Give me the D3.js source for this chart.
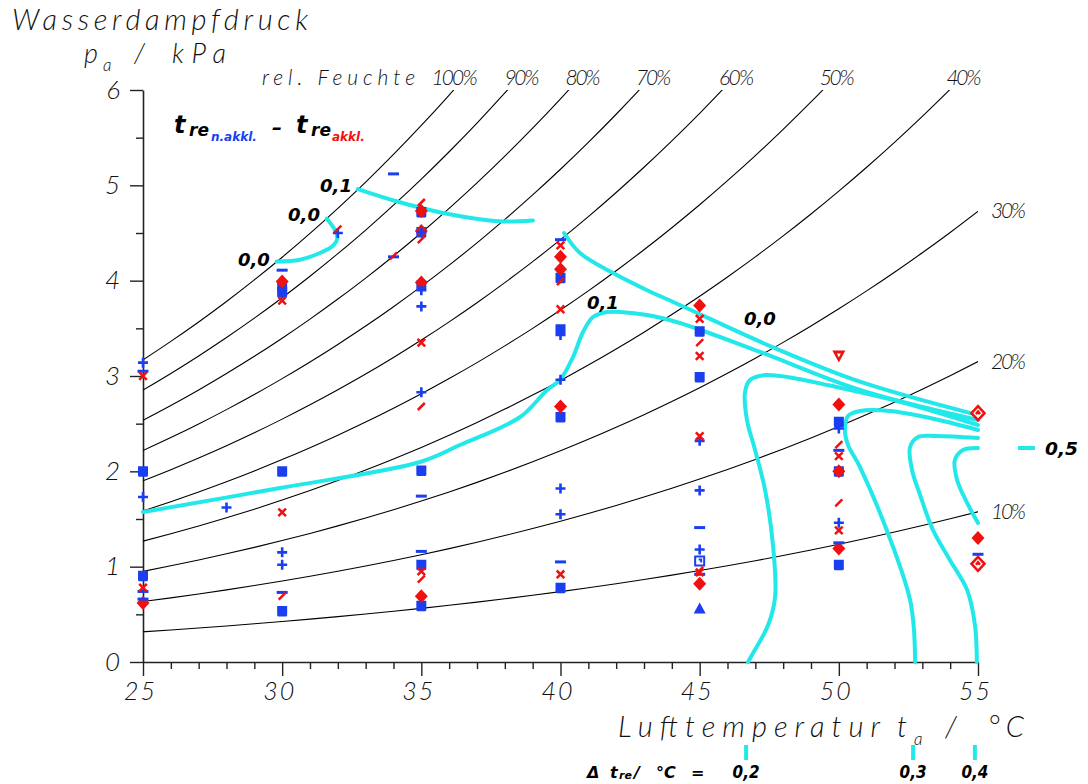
<!DOCTYPE html>
<html>
<head>
<meta charset="utf-8">
<script src="https://cdn.jsdelivr.net/npm/d3@7"></script>
<style>
  body { margin: 0; background: #fff; }
  svg { display: block; }
  .thin { font-family: "Lato", "DejaVu Sans", sans-serif; font-style: italic; font-weight: 300; fill: #111; }
  .bold { font-family: "DejaVu Sans", sans-serif; font-style: italic; font-weight: bold; fill: #000; }
</style>
</head>
<body>
<svg id="chart" width="1088" height="784"></svg>
<script>
// Saturation vapour pressure of water (kPa), 25 … 55 °C
const satTemps = [25,26,27,28,29,30,31,32,33,34,35,36,37,38,39,40,41,42,43,44,45,46,47,48,49,50,51,52,53,54,55];
const satPressure = [3.169,3.363,3.567,3.782,4.008,4.246,4.496,4.759,5.034,5.324,5.628,5.947,6.281,6.632,6.999,
                     7.384,7.786,8.208,8.649,9.111,9.593,10.098,10.624,11.175,11.749,12.349,12.975,13.628,14.309,15.019,15.758];
// relative humidity isolines (%)
const rhLevels = [100,90,80,70,60,50,40,30,20,10];

// isolines of the rectal-temperature difference Δt_re (°C): [t_a, p_a]
const iso00a = [[29.80,4.20],[30.64,4.22],[31.36,4.29],[31.84,4.37],[31.98,4.44],[31.90,4.53],[31.60,4.65]];
const iso01a = [[32.72,4.96],[34.13,4.83],[35.78,4.71],[37.22,4.64],[37.93,4.62],[39.01,4.63]];
const iso00b = [[40.13,4.50],[40.70,4.29],[41.89,4.08],[43.11,3.90],[44.29,3.745],[47.64,3.30],[50.76,2.94],[55.00,2.59]];
const iso01b = [[25.00,1.573],[29.92,1.825],[34.95,2.098],[36.39,2.276],[38.55,2.57],[39.52,2.853],[39.98,2.958],
                [40.45,3.199],[40.81,3.462],[41.17,3.619],[41.67,3.671],[42.14,3.671],[43.11,3.64],[44.29,3.556],
                [47.17,3.252],[50.76,2.853],[55.00,2.538]];
const iso02 = [[55.00,2.486],[52.20,2.73],[49.68,2.90],[48.25,2.985],[47.35,3.01],[46.81,2.958],[46.63,2.832],
               [46.70,2.538],[46.99,2.224],[47.35,1.804],[47.64,1.206],[47.71,0.682],[47.46,0.388],[46.88,0.073],[46.74,0]];
const iso03 = [[55.00,2.434],[53.28,2.559],[51.84,2.633],[50.76,2.633],[50.33,2.58],[50.22,2.434],[50.33,2.276],
               [50.76,2.045],[51.95,1.206],[52.56,0.65],[52.70,0.336],[52.74,0]];
const iso04 = [[55.00,2.35],[53.46,2.371],[52.85,2.36],[52.56,2.255],[52.63,2.014],[52.92,1.752],[53.38,1.385],
               [53.99,1.07],[54.61,0.755],[54.89,0.388],[54.96,0]];
const iso05 = [[55.00,2.245],[54.46,2.224],[54.17,2.119],[54.25,1.909],[54.61,1.668],[55.00,1.458]];

const isoLabelText = ["0,0","0,0","0,1","0,1","0,0"];
const isoLabelT = [28.41,30.21,31.36,40.95,46.59];
const isoLabelP = [4.154,4.626,4.93,3.703,3.535];

// measured points: non-acclimatised (blue) and acclimatised (red)
const blueSquare = [[25,2.0],[25,0.905],[30,3.93],[30,3.88],[30,2.0],[30,0.535],[35,4.72],[35,4.51],[35,3.95],[35,2.01],
                    [35,1.02],[35,0.59],[40,4.03],[40,3.49],[40,2.57],[40,0.78],[45,3.47],[45,2.99],[50,2.52],[50,2.0],[50,1.02]];
const bluePlus = [[25,3.14],[25,1.73],[28,1.62],[30,1.15],[30,1.02],[32,4.5],[35,4.51],[35,3.9],[35,3.73],[35,2.83],
                  [40,3.43],[40,2.96],[40,1.82],[40,1.55],[45,2.32],[45,1.8],[45,1.18],[50,2.45],[50,1.46]];
const blueMinus = [[25,3.05],[25,0.74],[25,0.66],[30,4.11],[30,0.73],[34,5.12],[34,4.25],[35,1.74],[35,1.16],
                   [40,4.43],[40,1.05],[45,1.41],[45,0.92],[50,2.22],[50,1.25],[55,1.13]];
const blueTriangle = [[45,0.56]];
const blueOpenSquare = [[45,1.06]];
const redDiamond = [[25,0.62],[30,3.99],[35,4.73],[35,4.52],[35,3.98],[35,0.69],[40,4.25],[40,4.12],[40,2.68],
                    [45,3.74],[45,0.82],[50,2.7],[50,2.0],[50,1.19],[55,1.3]];
const redCross = [[25,3.0],[25,0.78],[30,3.79],[30,1.57],[35,3.35],[35,0.95],[40,4.37],[40,3.7],[40,0.92],
                  [45,3.6],[45,3.21],[45,2.37],[45,0.94],[50,2.16],[50,1.38]];
const redSlash = [[30,0.69],[32,4.54],[34,4.26],[35,4.82],[35,4.43],[35,2.68],[35,0.87],[40,3.99],[45,3.35],
                  [50,2.28],[50,1.67],[45,0.96]];
const redTriangleDown = [[50,3.21]];
const redOpenDiamond = [[55,2.61],[55,1.03]];

const yTicks = [0,1,2,3,4,5,6];
const xTicks = [25,30,35,40,45,50,55];

const BLUE = "#1a3ff0", RED = "#f01010", CYAN = "#22e8ea";

const svg = d3.select("#chart");
const x = d3.scaleLinear().domain([25,55]).range([143,978]);
const y = d3.scaleLinear().domain([0,6]).range([662,90]);

svg.append("defs").append("clipPath").attr("id","plotClip").append("rect")
  .attr("x", x(25)).attr("y", y(6)).attr("width", x(55)-x(25)).attr("height", y(0)-y(6));

// ---- axes ----
function styleAxis(g){
  g.selectAll("path.domain").attr("stroke","#222").attr("stroke-width",1.6);
  g.selectAll(".tick line").attr("stroke","#222").attr("stroke-width",1.4);
  g.selectAll(".tick text").attr("class","thin").attr("font-size",26);
}
svg.append("g").attr("transform",`translate(${x(25)},0)`)
  .call(d3.axisLeft(y).tickValues(d3.range(0.5,6,1)).tickSize(7).tickSizeOuter(0).tickFormat(""))
  .call(g=>g.select(".domain").remove()).call(styleAxis);
svg.append("g").attr("transform",`translate(${x(25)},0)`)
  .call(d3.axisLeft(y).tickValues(yTicks).tickSize(13).tickSizeOuter(0).tickPadding(10).tickFormat(d3.format("d")))
  .call(styleAxis);
svg.append("g").attr("transform",`translate(0,${y(0)})`)
  .call(d3.axisBottom(x).tickValues(d3.range(26,55,1).filter(d=>d%5)).tickSize(7).tickSizeOuter(0).tickFormat(""))
  .call(g=>g.select(".domain").remove()).call(styleAxis);
svg.append("g").attr("transform",`translate(0,${y(0)})`)
  .call(d3.axisBottom(x).tickValues(xTicks).tickSize(14).tickSizeOuter(0).tickPadding(6).tickFormat(d3.format("d")))
  .call(styleAxis)
  .call(g=>g.selectAll(".tick text").attr("font-size",25).attr("dx",-4)
    .attr("textLength",31).attr("lengthAdjust","spacing"));

// ---- relative humidity curves ----
const line = d3.line().x(d=>x(d[0])).y(d=>y(d[1])).curve(d3.curveMonotoneX);
const rhGroup = svg.append("g").attr("clip-path","url(#plotClip)");
rhLevels.forEach(rh=>{
  const pts = satTemps.map((t,i)=>[t, rh/100*satPressure[i]]);
  rhGroup.append("path").attr("d", line(pts)).attr("fill","none").attr("stroke","#000").attr("stroke-width",1.1);
  // label where the curve leaves the chart
  let lx, ly, anchor = "start";
  const pMax = y.domain()[1];
  const k = pts.findIndex(d=>d[1] > pMax);
  if (k > 0) {
    const a = pts[k-1], b = pts[k];
    const tCross = a[0] + (pMax-a[1])/(b[1]-a[1])*(b[0]-a[0]);
    lx = x(tCross) - 3; ly = y(pMax) - 5;
    if (rh === 100) { lx = x(tCross) + 24; anchor = "end"; }
  } else {
    const last = pts[pts.length-1];
    lx = x(last[0]) + 13; ly = y(last[1]) + 7;
  }
  const lbl = `${rh}%`;
  svg.append("text").attr("class","thin").attr("font-size",21).attr("x",lx).attr("y",ly)
    .attr("text-anchor",anchor).attr("textLength", lbl.length===4 ? 46 : 35).attr("lengthAdjust","spacing").text(lbl);
});
svg.append("text").attr("class","thin").attr("font-size",21).attr("x",262).attr("y",y(6)-5)
  .attr("textLength",153).attr("lengthAdjust","spacing").text("rel. Feuchte");

// ---- Δt_re isolines ----
const isoLine = d3.line().x(d=>x(d[0])).y(d=>y(d[1])).curve(d3.curveCatmullRom.alpha(0.5));
[iso00a, iso01a, iso00b, iso01b, iso02, iso03, iso04, iso05].forEach(d=>{
  svg.append("path").attr("d", isoLine(d)).attr("fill","none").attr("stroke",CYAN)
    .attr("stroke-width",4).attr("stroke-linecap","round").attr("stroke-linejoin","round");
});
isoLabelText.forEach((t,i)=>{
  svg.append("text").attr("class","bold").attr("font-size",17).attr("x",x(isoLabelT[i])).attr("y",y(isoLabelP[i]))
    .attr("textLength",32).attr("lengthAdjust","spacingAndGlyphs").text(t);
});

// ---- markers ----
const shapes = {
  square:  {d:"M-5,-5H5V4Q5,5.5 3.5,5.5H-3.5Q-5,5.5 -5,4Z", fill:true},
  diamond: {d:"M0,-7L6.5,0L0,7L-6.5,0Z", fill:true},
  plus:    {d:"M-5,0H5M0,-5V5", w:2.6},
  minus:   {d:"M-5.5,0H5.5", w:3},
  cross:   {d:"M-3.8,-3.8L3.8,3.8M3.8,-3.8L-3.8,3.8", w:2.5},
  slash:   {d:"M-3.5,3.5L3.5,-3.5", w:2.5},
  triUp:   {d:"M0,-6L6,5H-6Z", fill:true},
  triDown: {d:"M-6.5,-5.5H6.5L0,6.5ZM-2,-2.5H2L0,1.5Z", fill:true, evenodd:true},
  oSquare: {d:"M-4.5,-4.5H4.5V4.5H-4.5ZM-1,-1.5H1.5V1.5", w:2, open:true},
  oDiamond:{d:"M0,-7L6.5,0L0,7L-6.5,0ZM-2,1L0,-1.5L2,1", w:2.6, open:true}
};
function drawMarks(data, shape, color){
  const s = shapes[shape];
  svg.append("g").selectAll("path").data(data).join("path")
    .attr("transform", d=>`translate(${x(d[0])},${y(d[1])})`)
    .attr("d", s.d)
    .attr("fill-rule", s.evenodd ? "evenodd" : "nonzero")
    .attr("fill", s.fill ? color : (s.open ? "#fff" : "none"))
    .attr("stroke", s.fill ? "none" : color)
    .attr("stroke-width", s.w || 0);
}
drawMarks(blueSquare, "square", BLUE);
drawMarks(redDiamond, "diamond", RED);
drawMarks(blueTriangle, "triUp", BLUE);
drawMarks(blueOpenSquare, "oSquare", BLUE);
drawMarks(redTriangleDown, "triDown", RED);
drawMarks(redOpenDiamond, "oDiamond", RED);
drawMarks(bluePlus, "plus", BLUE);
drawMarks(blueMinus, "minus", BLUE);
drawMarks(redCross, "cross", RED);
drawMarks(redSlash, "slash", RED);

// ---- axis titles ----
svg.append("text").attr("class","thin").attr("font-size",29).attr("x",12).attr("y",30)
  .attr("textLength",296).attr("lengthAdjust","spacing").text("Wasserdampfdruck");
svg.append("text").attr("class","thin").attr("font-size",27).attr("x",84).attr("y",63).text("p");
svg.append("text").attr("class","thin").attr("font-size",17).attr("x",103).attr("y",71).text("a");
svg.append("text").attr("class","thin").attr("font-size",27).attr("x",134).attr("y",63).text("/");
svg.append("text").attr("class","thin").attr("font-size",27).attr("x",172).attr("y",63)
  .attr("textLength",54).attr("lengthAdjust","spacing").text("kPa");

svg.append("text").attr("class","thin").attr("font-size",29).attr("x",618).attr("y",737)
  .attr("textLength",262).attr("lengthAdjust","spacing").text("Lufttemperatur");
svg.append("text").attr("class","thin").attr("font-size",29).attr("x",897).attr("y",737).text("t");
svg.append("text").attr("class","thin").attr("font-size",17).attr("x",914).attr("y",745).text("a");
svg.append("text").attr("class","thin").attr("font-size",29).attr("x",945).attr("y",737).text("/");
svg.append("text").attr("class","thin").attr("font-size",29).attr("x",988).attr("y",737)
  .attr("textLength",36).attr("lengthAdjust","spacing").text("°C");

// ---- difference legend (top left) ----
const lg = svg.append("text").attr("class","bold").attr("y",133);
lg.append("tspan").attr("x",174).attr("font-size",24).text("t");
lg.append("tspan").attr("x",189).attr("dy",3).attr("font-size",17).text("re");
lg.append("tspan").attr("x",211).attr("dy",5).attr("font-size",12).attr("fill",BLUE).text("n.akkl.");
lg.append("tspan").attr("x",272).attr("dy",-7).attr("font-size",20).text("–");
lg.append("tspan").attr("x",296).attr("dy",-1).attr("font-size",24).text("t");
lg.append("tspan").attr("x",311).attr("dy",3).attr("font-size",17).text("re");
lg.append("tspan").attr("x",332).attr("dy",5).attr("font-size",12).attr("fill",RED).text("akkl.");

// ---- Δt_re key (right and bottom) ----
const key05 = iso05[0];
svg.append("line").attr("x1", x(key05[0])+40).attr("x2", x(key05[0])+57)
  .attr("y1", y(key05[1])).attr("y2", y(key05[1]))
  .attr("stroke",CYAN).attr("stroke-width",4);
svg.append("text").attr("class","bold").attr("font-size",18).attr("x", x(key05[0])+67).attr("y", y(key05[1])+7)
  .attr("textLength",33).attr("lengthAdjust","spacingAndGlyphs").text("0,5");

const kb = svg.append("text").attr("class","bold").attr("y",778).attr("font-size",16);
kb.append("tspan").attr("x",587).text("Δ");
kb.append("tspan").attr("x",610).text("t");
kb.append("tspan").attr("x",619).attr("font-size",11).attr("dy",1).text("re");
kb.append("tspan").attr("x",634).attr("dy",-1).text("/");
kb.append("tspan").attr("x",656).text("°C");
kb.append("tspan").attr("x",691).text("=");
const bottomKeys = [[iso02,"0,2"],[iso03,"0,3"],[iso04,"0,4"]];
bottomKeys.forEach(([iso,lbl])=>{
  const xb = x(iso[iso.length-1][0]) - 2;
  svg.append("line").attr("x1",xb).attr("x2",xb).attr("y1",745).attr("y2",760)
    .attr("stroke",CYAN).attr("stroke-width",4);
  svg.append("text").attr("class","bold").attr("font-size",17).attr("x",xb).attr("y",778)
    .attr("text-anchor","middle").attr("textLength",27).attr("lengthAdjust","spacingAndGlyphs").text(lbl);
});
</script>
</body>
</html>
